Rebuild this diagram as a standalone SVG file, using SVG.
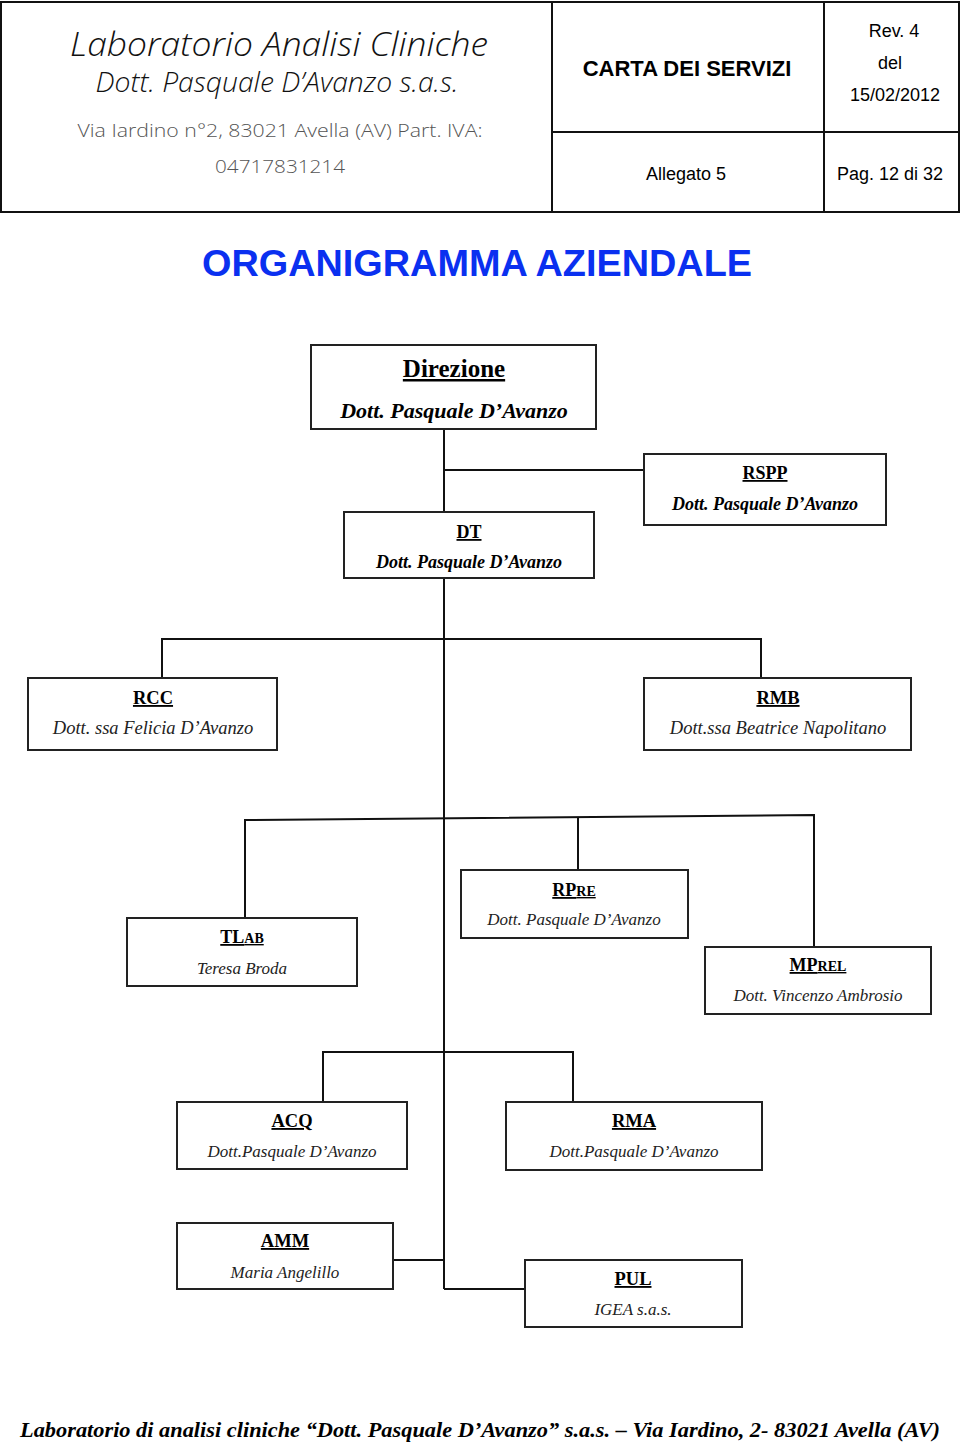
<svg xmlns="http://www.w3.org/2000/svg" width="960" height="1447" viewBox="0 0 960 1447">
<style>
.hdr{fill:none;stroke:#111;stroke-width:2}
.box{fill:#fff;stroke:#222;stroke-width:2}
.ln{fill:none;stroke:#111;stroke-width:2}
.ar{font-family:"Liberation Sans",Arial,sans-serif;fill:#000;text-anchor:middle}
.eras{font-family:"Open Sans","Liberation Sans",sans-serif;font-style:italic;font-weight:300;fill:#111;text-anchor:middle}
.eras2{font-family:"Open Sans","Liberation Sans",sans-serif;font-weight:300;fill:#555;text-anchor:middle}
.t{font-family:"Liberation Serif","Times New Roman",serif;font-weight:bold;text-decoration:underline;text-anchor:middle;fill:#000}
.nb{font-family:"Liberation Serif","Times New Roman",serif;font-weight:bold;font-style:italic;text-anchor:middle;fill:#000}
.n{font-family:"Liberation Serif","Times New Roman",serif;font-style:italic;text-anchor:middle;fill:#222}
</style>
<rect width="960" height="1447" fill="#fff"/>
<g id="header">
<rect class="hdr" x="1" y="2" width="958" height="210"/>
<line class="hdr" x1="552" y1="2" x2="552" y2="212"/>
<line class="hdr" x1="824" y1="2" x2="824" y2="212"/>
<line class="hdr" x1="552" y1="132" x2="959" y2="132"/>
<text class="eras" x="279" y="56" font-size="33" textLength="418" lengthAdjust="spacingAndGlyphs">Laboratorio Analisi Cliniche</text>
<text class="eras" x="277" y="92" font-size="27" textLength="363" lengthAdjust="spacingAndGlyphs">Dott. Pasquale D’Avanzo s.a.s.</text>
<text class="eras2" x="280" y="137" font-size="19" textLength="405" lengthAdjust="spacingAndGlyphs">Via Iardino n°2, 83021 Avella (AV)  Part. IVA:</text>
<text class="eras2" x="280" y="173" font-size="19" textLength="130" lengthAdjust="spacingAndGlyphs">04717831214</text>
<text class="ar" x="687" y="76" font-size="22" font-weight="bold">CARTA DEI SERVIZI</text>
<text class="ar" x="894" y="37" font-size="18">Rev. 4</text>
<text class="ar" x="890" y="69" font-size="18">del</text>
<text class="ar" x="895" y="101" font-size="18">15/02/2012</text>
<text class="ar" x="686" y="180" font-size="18">Allegato 5</text>
<text class="ar" x="890" y="180" font-size="18">Pag. 12 di 32</text>
</g>
<text id="title" class="ar" x="477" y="276" font-size="37.5" font-weight="bold" textLength="550" lengthAdjust="spacingAndGlyphs" style="fill:#0a30f0">ORGANIGRAMMA AZIENDALE</text>
<g id="connectors">
<line class="ln" x1="444" y1="429" x2="444" y2="1289"/>
<line class="ln" x1="444" y1="470" x2="644" y2="470"/>
<polyline class="ln" points="162,678 162,639 761,639 761,678"/>
<polyline class="ln" points="245,918 245,820 814,815 814,947"/>
<line class="ln" x1="578" y1="818" x2="578" y2="870"/>
<polyline class="ln" points="323,1102 323,1052 573,1052 573,1102"/>
<line class="ln" x1="393" y1="1260" x2="444" y2="1260"/>
<line class="ln" x1="444" y1="1289" x2="525" y2="1289"/>
</g>
<g id="direzione">
<rect class="box" x="311" y="345" width="285" height="84"/>
<text class="t" x="454" y="377" font-size="25">Direzione</text>
<text class="nb" x="454" y="418" font-size="22">Dott. Pasquale D’Avanzo</text>
</g>
<g id="rspp">
<rect class="box" x="644" y="454" width="242" height="71"/>
<text class="t" x="765" y="479" font-size="18">RSPP</text>
<text class="nb" x="765" y="510" font-size="18">Dott. Pasquale D’Avanzo</text>
</g>
<g id="dt">
<rect class="box" x="344" y="512" width="250" height="66"/>
<text class="t" x="469" y="538" font-size="18">DT</text>
<text class="nb" x="469" y="568" font-size="18">Dott. Pasquale D’Avanzo</text>
</g>
<g id="rcc">
<rect class="box" x="28" y="678" width="249" height="72"/>
<text class="t" x="153" y="704" font-size="18.5">RCC</text>
<text class="n" x="153" y="734" font-size="18.5">Dott. ssa Felicia D’Avanzo</text>
</g>
<g id="rmb">
<rect class="box" x="644" y="678" width="267" height="72"/>
<text class="t" x="778" y="704" font-size="18.5">RMB</text>
<text class="n" x="778" y="734" font-size="18.5">Dott.ssa Beatrice Napolitano</text>
</g>
<g id="tlab">
<rect class="box" x="127" y="918" width="230" height="68"/>
<text class="t" x="242" y="943" font-size="18">TL<tspan font-size="14">AB</tspan></text>
<text class="n" x="242" y="974" font-size="17">Teresa Broda</text>
</g>
<g id="rpre">
<rect class="box" x="461" y="870" width="227" height="68"/>
<text class="t" x="574" y="896" font-size="18">RP<tspan font-size="14">RE</tspan></text>
<text class="n" x="574" y="925" font-size="17">Dott. Pasquale D’Avanzo</text>
</g>
<g id="mprel">
<rect class="box" x="705" y="947" width="226" height="67"/>
<text class="t" x="818" y="971" font-size="18">MP<tspan font-size="14">REL</tspan></text>
<text class="n" x="818" y="1001" font-size="17">Dott. Vincenzo Ambrosio</text>
</g>
<g id="acq">
<rect class="box" x="177" y="1102" width="230" height="67"/>
<text class="t" x="292" y="1127" font-size="18.5">ACQ</text>
<text class="n" x="292" y="1157" font-size="17">Dott.Pasquale D’Avanzo</text>
</g>
<g id="rma">
<rect class="box" x="506" y="1102" width="256" height="68"/>
<text class="t" x="634" y="1127" font-size="18.5">RMA</text>
<text class="n" x="634" y="1157" font-size="17">Dott.Pasquale D’Avanzo</text>
</g>
<g id="amm">
<rect class="box" x="177" y="1223" width="216" height="66"/>
<text class="t" x="285" y="1247" font-size="18.5">AMM</text>
<text class="n" x="285" y="1278" font-size="17">Maria Angelillo</text>
</g>
<g id="pul">
<rect class="box" x="525" y="1260" width="217" height="67"/>
<text class="t" x="633" y="1285" font-size="18.5">PUL</text>
<text class="n" x="633" y="1315" font-size="17">IGEA s.a.s.</text>
</g>
<text id="footer" class="nb" x="480" y="1437" font-size="22" textLength="920" lengthAdjust="spacingAndGlyphs">Laboratorio di analisi cliniche “Dott. Pasquale D’Avanzo” s.a.s. – Via Iardino, 2- 83021 Avella (AV)</text>
</svg>
